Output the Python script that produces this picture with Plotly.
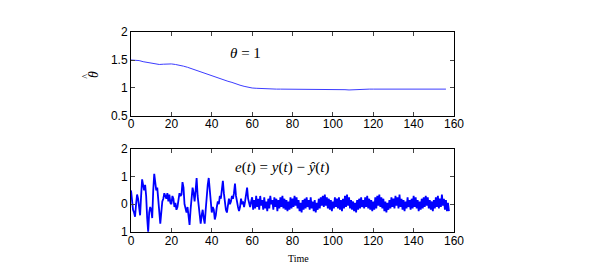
import numpy as np
import plotly.graph_objects as go

# theta-hat estimate, sampled every 2 s (t = 0..156)
theta_hat = [1.50, 1.50, 1.49, 1.47, 1.46, 1.44, 1.43, 1.42, 1.425, 1.43,
             1.43, 1.42, 1.41, 1.39, 1.37, 1.345, 1.32, 1.29, 1.265, 1.24,
             1.21, 1.19, 1.16, 1.14, 1.12, 1.10, 1.07, 1.05, 1.03, 1.01,
             1.00, 0.995, 0.99, 0.985, 0.98, 0.98, 0.98, 0.98, 0.98, 0.98,
             0.98, 0.98, 0.98, 0.98, 0.98, 0.98, 0.98, 0.98, 0.975, 0.975,
             0.975, 0.97, 0.97, 0.97, 0.965, 0.97, 0.97, 0.97, 0.975, 0.98,
             0.98, 0.98, 0.98, 0.98, 0.98, 0.985, 0.985, 0.985, 0.985, 0.985,
             0.98, 0.98, 0.98, 0.985, 0.98, 0.98, 0.98, 0.98, 0.98]
theta_step = 2.0

# prediction error e(t), sampled every 0.5 s (t = 0..157.5)
err_early = [0.5, 0.1, -0.2, -0.3, -0.45, 0.0, 0.35, 0.2, -0.2, -0.4,
             0.3, 0.9, 0.7, 0.5, 0.7, 0.3, -0.5, -1.0, -0.3, -0.1,
             -0.2, -0.5, 0.5, 1.1, 0.8, 0.5, 0.6, 0.2, -0.4, -0.7,
             -0.3, 0.1, 0.2, 0.4, 0.3, 0.2, 0.4, 0.1, 0.35, 0.05,
             0.0, 0.3, 0.2, -0.1, 0.05, -0.2, -0.1, 0.1, 0.4, 0.3,
             0.35, 0.8, 0.6, 0.0, -0.2, -0.3, -0.1, -0.5, -0.75, -0.2,
             0.2, 0.6, 0.4, 0.1, 0.5, 0.95, 0.3, -0.1, -0.4, -0.7,
             -0.4, -0.2, -0.5, -0.7, -0.2, 0.4, 0.7, 0.95, 0.5, 0.2,
             -0.3, -0.1, -0.2, -0.55, -0.4, -0.1, 0.1, 0.0, 0.3, 0.2,
             0.5, 0.85, 0.4, 0.0, -0.2, -0.3, -0.1, 0.2, 0.0, 0.1,
             0.3, 0.2, 0.4, 0.75, 0.3, 0.0, -0.1, -0.25, -0.1, 0.2,
             0.0, 0.1, -0.1, 0.1, 0.3, 0.6, 0.2, 0.0, -0.1, 0.1]
err_late = [0.25, -0.2, 0.15, -0.15, 0.3, -0.1, 0.2, -0.2, 0.3, -0.05, 0.15, -0.2, 0.25, -0.15,
            0.1, -0.25, 0.2, -0.15, 0.3, 0.0, 0.15, -0.2, 0.25, -0.1, 0.2, -0.25, 0.15, -0.15,
            0.25, -0.1, 0.3, -0.15, 0.2, -0.2, 0.15, -0.25, 0.1, -0.2, 0.25, -0.15, 0.2, -0.1,
            0.3, -0.05, 0.25, -0.15, 0.15, -0.25, 0.05, -0.3, 0.15, -0.2, 0.2, -0.15, 0.25, -0.1,
            0.15, -0.2, 0.25, -0.15, 0.1, -0.25, 0.15, -0.3, 0.05, -0.2, 0.2, -0.15, 0.25, -0.05,
            0.3, -0.1, 0.35, -0.05, 0.25, -0.15, 0.2, -0.2, 0.15, -0.25, 0.1, -0.15, 0.25, -0.1,
            0.2, -0.15, 0.25, -0.2, 0.15, -0.25, 0.2, -0.15, 0.3, -0.1, 0.35, -0.05, 0.25, -0.15,
            0.15, -0.2, 0.1, -0.25, 0.05, -0.3, 0.15, -0.2, 0.2, -0.15, 0.25, -0.1, 0.15, -0.15,
            0.25, -0.1, 0.3, -0.15, 0.2, -0.2, 0.15, -0.25, 0.1, -0.2, 0.25, -0.15, 0.3, -0.05,
            0.35, -0.1, 0.25, -0.15, 0.2, -0.25, 0.1, -0.3, 0.05, -0.2, 0.15, -0.15, 0.25, -0.1,
            0.2, -0.15, 0.3, -0.05, 0.25, -0.15, 0.35, -0.1, 0.2, -0.2, 0.15, -0.25, 0.1, -0.15,
            0.25, -0.1, 0.15, -0.2, 0.2, -0.15, 0.3, -0.1, 0.25, -0.15, 0.15, -0.25, 0.1, -0.2,
            0.2, -0.15, 0.25, -0.1, 0.3, -0.05, 0.25, -0.15, 0.15, -0.2, 0.1, -0.25, 0.15, -0.15,
            0.25, -0.1, 0.3, -0.15, 0.2, -0.1, 0.35, -0.05, 0.2, -0.2, 0.15, -0.25, 0.05, -0.25]
err_step = 0.5
err = err_early + err_late

x_ticks = [0, 20, 40, 60, 80, 100, 120, 140, 160]
top_yticks = [0.5, 1, 1.5, 2]
top_yticklabels = ["0.5", "1", "1.5", "2"]
bot_yticks = [-1, 0, 1, 2]
bot_yticklabels = ["1", "0", "1", "2"]

t_theta = np.arange(len(theta_hat)) * theta_step
t_err = np.arange(len(err)) * err_step

fig = go.Figure()
fig.add_trace(go.Scatter(x=t_theta, y=theta_hat, mode="lines",
                         line=dict(color="#3c3cff", width=1), xaxis="x", yaxis="y"))
fig.add_trace(go.Scatter(x=t_err, y=err, mode="lines",
                         line=dict(color="#0000ff", width=1.8), xaxis="x2", yaxis="y2"))

tick_font = dict(family="Liberation Sans, Arial, sans-serif", size=12, color="black")
common_x = dict(range=[0, 160], tickvals=x_ticks, ticks="inside", ticklen=4,
                showline=True, linecolor="black", linewidth=1, mirror="ticks",
                showgrid=False, zeroline=False, tickfont=tick_font, automargin=False)
common_y = dict(ticks="inside", ticklen=4, showline=True, linecolor="black",
                linewidth=1, mirror="ticks", showgrid=False, zeroline=False,
                tickfont=tick_font, automargin=False)

serif = "Liberation Serif, Times New Roman, serif"
fig.update_layout(
    width=592, height=264,
    margin=dict(l=0, r=0, t=0, b=0),
    paper_bgcolor="white", plot_bgcolor="white",
    showlegend=False,
    xaxis=dict(domain=[0.2078, 0.7534], anchor="y", ticklabelstandoff=-3, **common_x),
    yaxis=dict(domain=[0.591, 0.909], anchor="x", range=[0.5, 2],
               tickvals=top_yticks, ticktext=top_yticklabels, **common_y),
    xaxis2=dict(domain=[0.2078, 0.7534], anchor="y2", ticklabelstandoff=-2, **common_x),
    yaxis2=dict(domain=[0.152, 0.466], anchor="x2", range=[-1, 2],
                tickvals=bot_yticks, ticktext=bot_yticklabels, **common_y),
    annotations=[
        dict(text="<i>θ</i> = 1", x=0.401, y=0.83, xref="paper", yref="paper",
             xanchor="center", yanchor="middle",
             showarrow=False, font=dict(family=serif, size=15, color="black")),
        dict(text="<i>e</i>(<i>t</i>) = <i>y</i>(<i>t</i>) − <i>ŷ</i>(<i>t</i>)",
             x=0.463, y=0.394, xref="paper", yref="paper", showarrow=False,
             xanchor="center", yanchor="middle",
             font=dict(family=serif, size=15, color="black")),
        dict(text="Time", x=0.490, y=0.053, xref="paper", yref="paper", showarrow=False,
             xanchor="center", yanchor="middle",
             font=dict(family=serif, size=10, color="black")),
        dict(text="<i>θ</i>", x=0.1436, y=0.746, xref="paper", yref="paper",
             xanchor="center", yanchor="middle",
             showarrow=False, textangle=-90,
             font=dict(family=serif, size=14, color="black")),
        dict(text="^", x=0.131, y=0.742, xref="paper", yref="paper",
             xanchor="center", yanchor="middle",
             showarrow=False, textangle=-90,
             font=dict(family=serif, size=10, color="black")),
    ],
)

fig.write_html("out.html")
